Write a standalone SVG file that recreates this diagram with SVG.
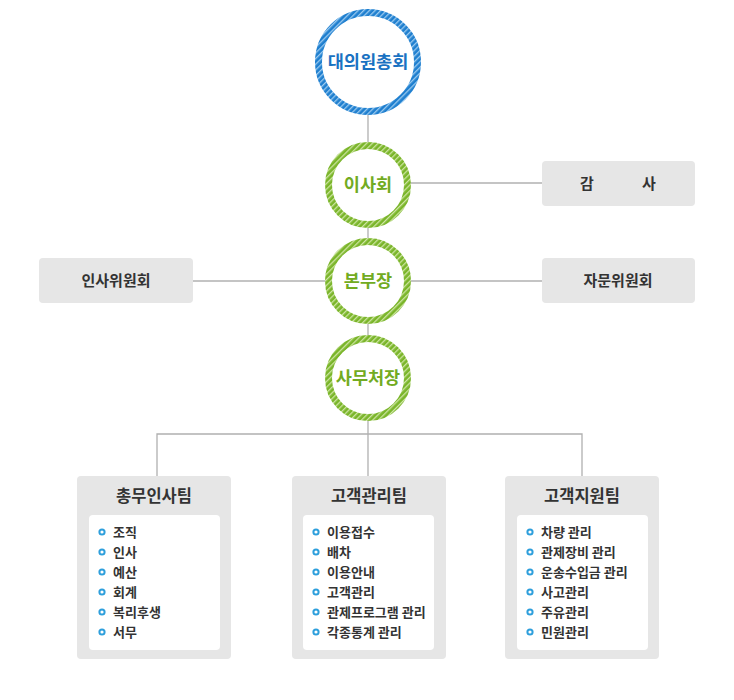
<svg xmlns="http://www.w3.org/2000/svg" width="734" height="700" viewBox="0 0 734 700">
<defs>
<pattern id="hb" patternUnits="userSpaceOnUse" width="4" height="4" patternTransform="rotate(45)">
<rect width="4" height="4" fill="#1f7fcf"/>
<rect x="0" y="0" width="1.3" height="4" fill="#9ccbf0"/>
</pattern>
<pattern id="hg" patternUnits="userSpaceOnUse" width="4" height="4" patternTransform="rotate(45)">
<rect width="4" height="4" fill="#7ab52a"/>
<rect x="0" y="0" width="1.3" height="4" fill="#cde5a2"/>
</pattern>
</defs>
<style>
text{font-family:"Noto Sans CJK KR","Noto Sans",sans-serif;font-weight:bold;}
.lines{stroke:#b0b0b0;stroke-width:1.3;fill:none;}
.ring{fill:#fff;stroke-width:7;}
.blue{stroke:url(#hb);}
.green{stroke:url(#hg);}
.ctitle{font-size:17.5px;text-anchor:middle;}
.side{fill:#e6e6e6;}
.stext{font-size:15px;fill:#333;text-anchor:middle;}
.team{fill:#e6e6e6;}
.inner{fill:#fff;}
.ttl{font-size:16.5px;fill:#333;text-anchor:middle;}
.item{font-size:13px;fill:#333;}
.dot{fill:#fff;stroke:#2e9fdc;stroke-width:2;}
</style>
<rect width="734" height="700" fill="#fff"/>
<g id="connectors" class="lines">
<line x1="368" y1="110" x2="368" y2="434"/>
<line x1="405" y1="183" x2="542" y2="183"/>
<line x1="193" y1="281" x2="542" y2="281"/>
<polyline points="157,476 157,434 582,434 582,476"/>
<line x1="368" y1="434" x2="368" y2="476"/>
</g>
<g id="n-assembly">
<circle class="ring blue" cx="368" cy="62" r="49.5"/>
<text class="ctitle" x="368" y="68" fill="#1a72c2">대의원총회</text>
</g>
<g id="n-board">
<circle class="ring green" cx="368" cy="185" r="39.5"/>
<text class="ctitle" x="368" y="191" fill="#72ab22">이사회</text>
</g>
<g id="n-hq">
<circle class="ring green" cx="368" cy="281" r="39.5"/>
<text class="ctitle" x="368" y="287" fill="#72ab22">본부장</text>
</g>
<g id="n-secretary">
<circle class="ring green" cx="368" cy="378" r="39.5"/>
<text class="ctitle" x="368" y="384" fill="#72ab22">사무처장</text>
</g>
<g id="n-audit">
<rect class="side" x="542" y="161" width="153" height="45" rx="4"/>
<text class="stext" y="189"><tspan x="587">감</tspan><tspan x="649">사</tspan></text>
</g>
<g id="n-hr-committee">
<rect class="side" x="39" y="258" width="154" height="45" rx="4"/>
<text class="stext" x="116" y="286">인사위원회</text>
</g>
<g id="n-advisory">
<rect class="side" x="542" y="258" width="153" height="45" rx="4"/>
<text class="stext" x="618" y="286">자문위원회</text>
</g>
<g id="n-team1">
<rect class="team" x="77" y="476" width="154" height="183" rx="4"/>
<text class="ttl" x="154" y="502">총무인사팀</text>
<rect class="inner" x="89" y="515" width="131" height="135" rx="4"/>
<g>
<circle class="dot" cx="102" cy="532" r="2.6"/><text class="item" x="113" y="536.5">조직</text>
<circle class="dot" cx="102" cy="552" r="2.6"/><text class="item" x="113" y="556.5">인사</text>
<circle class="dot" cx="102" cy="572" r="2.6"/><text class="item" x="113" y="576.5">예산</text>
<circle class="dot" cx="102" cy="592" r="2.6"/><text class="item" x="113" y="596.5">회계</text>
<circle class="dot" cx="102" cy="612" r="2.6"/><text class="item" x="113" y="616.5">복리후생</text>
<circle class="dot" cx="102" cy="632" r="2.6"/><text class="item" x="113" y="636.5">서무</text>
</g>
</g>
<g id="n-team2">
<rect class="team" x="292" y="476" width="154" height="183" rx="4"/>
<text class="ttl" x="369" y="502">고객관리팀</text>
<rect class="inner" x="303" y="515" width="131" height="135" rx="4"/>
<g>
<circle class="dot" cx="316" cy="532" r="2.6"/><text class="item" x="327" y="536.5">이용접수</text>
<circle class="dot" cx="316" cy="552" r="2.6"/><text class="item" x="327" y="556.5">배차</text>
<circle class="dot" cx="316" cy="572" r="2.6"/><text class="item" x="327" y="576.5">이용안내</text>
<circle class="dot" cx="316" cy="592" r="2.6"/><text class="item" x="327" y="596.5">고객관리</text>
<circle class="dot" cx="316" cy="612" r="2.6"/><text class="item" x="327" y="616.5">관제프로그램 관리</text>
<circle class="dot" cx="316" cy="632" r="2.6"/><text class="item" x="327" y="636.5">각종통계 관리</text>
</g>
</g>
<g id="n-team3">
<rect class="team" x="505" y="476" width="154" height="183" rx="4"/>
<text class="ttl" x="582" y="502">고객지원팀</text>
<rect class="inner" x="517" y="515" width="131" height="135" rx="4"/>
<g>
<circle class="dot" cx="530" cy="532" r="2.6"/><text class="item" x="541" y="536.5">차량 관리</text>
<circle class="dot" cx="530" cy="552" r="2.6"/><text class="item" x="541" y="556.5">관제장비 관리</text>
<circle class="dot" cx="530" cy="572" r="2.6"/><text class="item" x="541" y="576.5">운송수입금 관리</text>
<circle class="dot" cx="530" cy="592" r="2.6"/><text class="item" x="541" y="596.5">사고관리</text>
<circle class="dot" cx="530" cy="612" r="2.6"/><text class="item" x="541" y="616.5">주유관리</text>
<circle class="dot" cx="530" cy="632" r="2.6"/><text class="item" x="541" y="636.5">민원관리</text>
</g>
</g>
</svg>
